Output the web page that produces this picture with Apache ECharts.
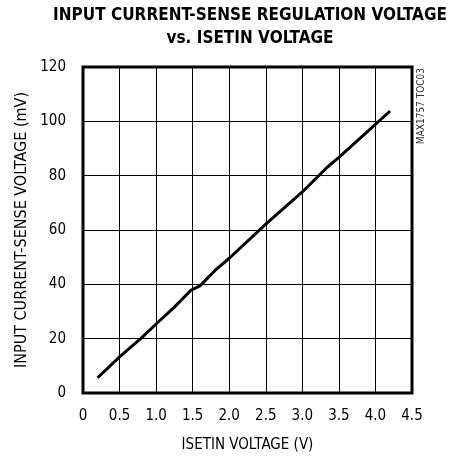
<!DOCTYPE html>
<html>
<head>
<meta charset="utf-8">
<script src="https://cdn.jsdelivr.net/npm/echarts@6/dist/echarts.min.js"></script>
<style>html,body{margin:0;padding:0;background:#fff}#c{width:461px;height:458px}</style>
</head>
<body>
<div id="c"></div>
<script>
var isetinV = [0.2, 0.5, 0.8, 1.0, 1.25, 1.48, 1.6, 1.7, 1.81, 2.0, 2.45, 2.5, 3.0, 3.34, 3.5, 4.0, 4.2];
var senseMV = [5.6, 13.3, 20.3, 25.4, 31.6, 37.9, 39.4, 42.2, 45.2, 49.6, 60.9, 62.2, 74.0, 83.1, 86.7, 98.9, 103.8];
var xTicks = ['0', '0.5', '1.0', '1.5', '2.0', '2.5', '3.0', '3.5', '4.0', '4.5'];
var yTicks = ['0', '20', '40', '60', '80', '100', '120'];
var titleText = 'INPUT CURRENT-SENSE REGULATION VOLTAGE\nvs. ISETIN VOLTAGE';
var xName = 'ISETIN VOLTAGE (V)';
var yName = 'INPUT CURRENT-SENSE VOLTAGE (mV)';
var noteText = 'MAX1757 TOC03';

var FONT = "'Liberation Sans Narrow', 'DejaVu Sans Condensed', 'Liberation Sans', sans-serif";
var data = isetinV.map(function (x, i) { return [x, senseMV[i]]; });
var chart = echarts.init(document.getElementById('c'), null, {renderer: 'canvas'});
chart.setOption({
  animation: false,
  backgroundColor: '#fff',
  title: {
    text: titleText,
    left: 245, top: -1, textAlign: 'center',
    textStyle: {fontFamily: FONT, fontWeight: 'bold', fontSize: 17, lineHeight: 23, color: '#000'}
  },
  grid: {left: 83, right: 49, top: 67, bottom: 63, show: true, borderColor: '#000', borderWidth: 3, backgroundColor: 'transparent'},
  xAxis: {
    type: 'value', min: 0, max: 4.5, interval: 0.5,
    name: xName, nameLocation: 'middle', nameGap: 45,
    nameTextStyle: {fontFamily: FONT, fontSize: 15, color: '#000'},
    axisLine: {show: false}, axisTick: {show: false},
    axisLabel: {margin: 16, fontFamily: FONT, fontSize: 15, color: '#000',
      formatter: function (v) { return xTicks[Math.round(v / 0.5)]; }},
    splitLine: {show: true, lineStyle: {color: '#000', width: 1}}
  },
  yAxis: {
    type: 'value', min: 0, max: 120, interval: 20,
    name: yName, nameLocation: 'middle', nameGap: 48,
    nameTextStyle: {fontFamily: FONT, fontSize: 16, color: '#000'},
    axisLine: {show: false}, axisTick: {show: false},
    axisLabel: {margin: 17, fontFamily: FONT, fontSize: 15, color: '#000',
      formatter: function (v) { return yTicks[Math.round(v / 20)]; }},
    splitLine: {show: true, lineStyle: {color: '#000', width: 1}}
  },
  graphic: [{
    type: 'text', x: 421, y: 68, rotation: Math.PI / 2,
    style: {text: noteText, fontFamily: FONT, fontSize: 10, fill: '#333', align: 'right', verticalAlign: 'middle'}
  }],
  series: [{
    type: 'line', data: data, showSymbol: false, smooth: false,
    lineStyle: {color: '#000', width: 3}
  }]
});
</script>
</body>
</html>
